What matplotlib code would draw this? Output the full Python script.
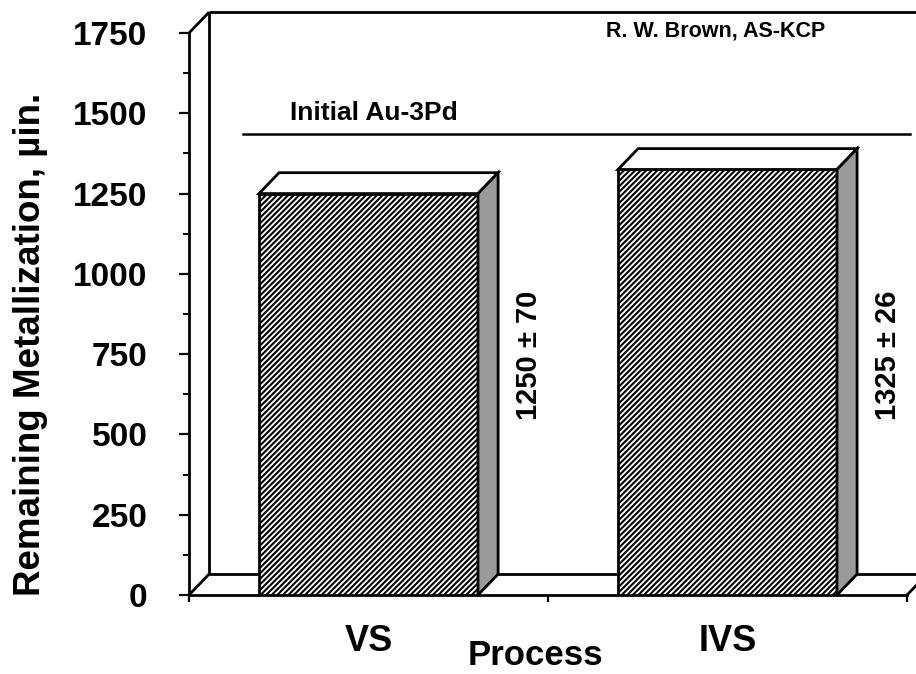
import numpy as np
import matplotlib
matplotlib.use('Agg')
import matplotlib.pyplot as plt
from matplotlib.patches import Polygon

plt.rcParams['font.family'] = ['Liberation Sans', 'DejaVu Sans']
plt.rcParams['font.weight'] = 'bold'
plt.rcParams['axes.labelweight'] = 'bold'
plt.rcParams['hatch.linewidth'] = 1.5

# data
processes = ['VS', 'IVS']
remaining = [1250, 1325]
spread = [70, 26]
initial_au3pd = 1370   # drawn on the back wall
y_ticks = [0, 250, 500, 750, 1000, 1250, 1500, 1750]

# pseudo-3D depth (data units)
ddx = 0.056
ddy = 65
bar_w = 0.61

fig = plt.figure(figsize=(9.16, 6.74), dpi=100)
ax = fig.add_axes([189/916, 79/674, 718/916, 562/674])
ax.set_xlim(-0.5, 1.5)
ax.set_ylim(0, 1750)

# back wall + floor (box frame)
x0, x1 = -0.5, 1.5
top = y_ticks[-1]
kw = dict(color='k', lw=2, clip_on=False, solid_capstyle='butt')
ax.plot([x0, x0 + ddx], [top, top + ddy], **kw)
ax.plot([x0 + ddx, x0 + ddx], [ddy, top + ddy], **kw)
ax.plot([x0 + ddx, x1 + 0.2], [top + ddy, top + ddy], **kw)
ax.plot([x0, x0 + ddx], [0, ddy], **kw)
ax.plot([x0 + ddx, x1 + 0.2], [ddy, ddy], **kw)
ax.plot([x1, x1 + ddx], [0, ddy], **kw)

# initial thickness line on the back wall
ax.plot([-0.35, 1.508], [initial_au3pd + ddy, initial_au3pd + ddy], color='k', lw=1.8, clip_on=False)
ax.text(-0.22, 1500, 'Initial Au-3Pd', fontsize=19, va='center', ha='left')
ax.text(0.968, 1756, 'R. W. Brown, AS-KCP', fontsize=15.5, va='center', ha='center', clip_on=False)

# bars: front face
xs = np.arange(len(processes))
ax.bar(xs, remaining, width=bar_w, color='white', edgecolor='k', hatch='//////', lw=2, zorder=3)

for x, v, s in zip(xs, remaining, spread):
    l, r = x - bar_w / 2, x + bar_w / 2
    top_face = Polygon([(l, v), (l + ddx, v + ddy), (r + ddx, v + ddy), (r, v)],
                       closed=True, facecolor='white', edgecolor='k', lw=2, zorder=3)
    side_face = Polygon([(r, 0), (r + ddx, ddy), (r + ddx, v + ddy), (r, v)],
                        closed=True, facecolor='#9a9a9a', edgecolor='k', lw=2, zorder=3)
    ax.add_patch(top_face)
    ax.add_patch(side_face)
    ax.text(r + ddx + 0.087, 747, f'{v} \u00b1 {s}', rotation=90, fontsize=21,
            ha='center', va='center')

# axes styling
for side in ['top', 'right']:
    ax.spines[side].set_visible(False)
for side in ['left', 'bottom']:
    ax.spines[side].set_linewidth(2)

ax.set_yticks(y_ticks)
ax.set_yticks(np.arange(125, 1750, 250), minor=True)
ax.tick_params(axis='y', which='major', direction='out', length=7, width=1.6,
               labelsize=24, pad=23)
ax.tick_params(axis='y', which='minor', direction='out', length=4, width=1.4)

ax.set_xticks(xs, processes)
ax.set_xticks([-0.5, 0.5, 1.5], minor=True)
ax.tick_params(axis='x', which='major', length=0, labelsize=26, pad=21)
ax.tick_params(axis='x', which='minor', direction='out', length=5, width=1.6)

ax.set_ylabel('Remaining Metallization, \u00b5in.', fontsize=26.5)
ax.yaxis.set_label_coords(-0.197, 0.445)
ax.set_xlabel('Process', fontsize=25)
ax.xaxis.set_label_coords(0.483, -0.079)

fig.savefig('out.png', dpi=100)
